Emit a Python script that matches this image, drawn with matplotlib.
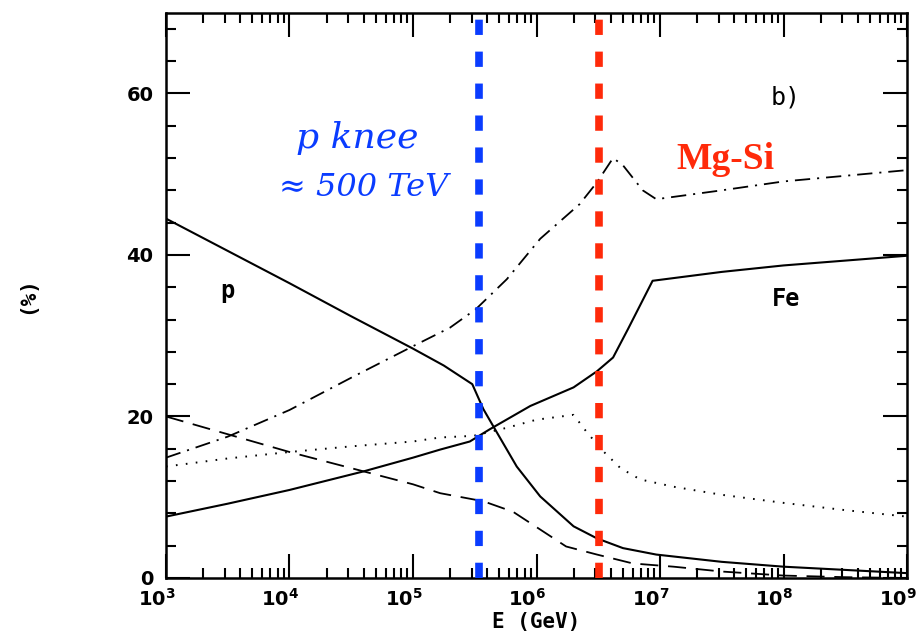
import matplotlib
matplotlib.use("Agg")
import matplotlib.pyplot as plt
import matplotlib.transforms as mtransforms
import numpy as np
from matplotlib.ticker import LogLocator, MultipleLocator, FixedLocator, NullFormatter

plt.rcParams["lines.scale_dashes"] = False

# curves: log10(E/GeV) and percentage
P_LOGE = [3.0, 3.5, 4.0, 4.5, 5.0, 5.25, 5.48, 5.57, 5.68, 5.84, 6.03, 6.3, 6.49, 6.7, 6.97, 7.5, 8.0, 8.5, 9.0]
P_VAL = [44.5, 40.5, 36.5, 32.4, 28.4, 26.3, 24.0, 20.9, 18.0, 13.8, 10.1, 6.4, 4.9, 3.7, 2.9, 2.0, 1.4, 1.0, 0.6]

FE_LOGE = [3.0, 3.5, 4.0, 4.6, 5.0, 5.22, 5.46, 5.62, 5.95, 6.3, 6.49, 6.62, 6.74, 6.94, 7.5, 8.0, 8.5, 9.0]
FE_VAL = [7.6, 9.2, 10.9, 13.2, 14.9, 15.9, 16.9, 18.4, 21.3, 23.6, 25.6, 27.3, 30.8, 36.8, 37.9, 38.7, 39.3, 39.9]

CNO_LOGE = [3.0, 3.5, 4.0, 4.5, 5.0, 5.3, 5.51, 5.76, 6.03, 6.35, 6.49, 6.62, 6.7, 6.86, 6.97, 7.5, 8.0, 8.5, 9.0]
CNO_VAL = [14.9, 17.5, 20.8, 24.8, 28.7, 31.0, 33.3, 37.0, 42.0, 46.3, 49.0, 52.0, 51.1, 48.0, 46.9, 48.0, 49.1, 49.8, 50.5]

HE_LOGE = [3.0, 3.5, 4.0, 4.6, 5.0, 5.22, 5.57, 5.81, 6.03, 6.24, 6.49, 6.78, 7.11, 7.5, 8.0, 8.5, 9.0]
HE_VAL = [20.0, 17.8, 15.6, 13.2, 11.6, 10.5, 9.5, 8.2, 6.0, 3.9, 2.9, 1.8, 1.4, 0.8, 0.3, 0.1, 0.0]

MG_LOGE = [3.0, 3.5, 4.0, 4.5, 5.0, 5.22, 5.49, 5.76, 6.0, 6.3, 6.41, 6.54, 6.68, 6.84, 7.11, 7.5, 8.0, 8.5, 9.0]
MG_VAL = [13.8, 14.8, 15.6, 16.3, 16.9, 17.4, 17.6, 18.6, 19.6, 20.2, 18.0, 15.7, 13.6, 12.2, 11.3, 10.3, 9.3, 8.4, 7.6]

X_DECADES = [3, 4, 5, 6, 7, 8, 9]
Y_MAJOR = [0, 20, 40, 60]

P_KNEE = 3.4e5
MG_KNEE = 3.2e6

fig = plt.figure(figsize=(9.16, 6.42), dpi=100)
ax = fig.add_axes([0.1812, 0.0997, 0.8090, 0.8806])

lw = 1.5
ax.plot(10 ** np.array(P_LOGE), P_VAL, color="black", lw=lw)
ax.plot(10 ** np.array(FE_LOGE), FE_VAL, color="black", lw=lw)
ax.plot(10 ** np.array(CNO_LOGE), CNO_VAL, color="black", lw=1.3, linestyle=(0, (11, 5, 1.5, 5)))
ax.plot(10 ** np.array(HE_LOGE), HE_VAL, color="black", lw=1.3, linestyle=(0, (13, 7)))
ax.plot(10 ** np.array(MG_LOGE), MG_VAL, color="black", lw=1.4, linestyle=(0, (1.2, 6.0)))

ax.axvline(P_KNEE, color="#0a3cff", lw=5.5, linestyle=(0, (11, 12)), zorder=5)
ax.axvline(MG_KNEE, color="#ff2a0a", lw=5.5, linestyle=(0, (11, 12)), zorder=5)

ax.set_xscale("log")
ax.set_xlim(1e3, 1e9)
ax.set_ylim(0, 70)

ax.xaxis.set_major_locator(FixedLocator(10.0 ** np.array(X_DECADES)))
ax.xaxis.set_minor_locator(LogLocator(base=10, subs=np.arange(2, 10), numticks=20))
ax.xaxis.set_minor_formatter(NullFormatter())
ax.yaxis.set_major_locator(FixedLocator(Y_MAJOR))
ax.yaxis.set_minor_locator(MultipleLocator(4))

ax.tick_params(which="both", direction="in", top=True, right=True, width=1.5)
ax.tick_params(which="major", length=17)
ax.tick_params(which="minor", length=7)
ax.tick_params(axis="x", which="major", pad=7)
ax.tick_params(axis="y", which="major", pad=9)

fig.canvas.draw()
shift = mtransforms.ScaledTranslation(-9 / 100, 0, fig.dpi_scale_trans)
for lab in ax.get_xticklabels():
    lab.set_fontsize(14)
    lab.set_fontweight("bold")
    lab.set_transform(lab.get_transform() + shift)
for lab in ax.get_yticklabels():
    lab.set_fontsize(14)
    lab.set_fontweight("bold")
for s in ax.spines.values():
    s.set_linewidth(1.8)

mono = "DejaVu Sans Mono"
ax.set_xlabel("E (GeV)", fontsize=15, fontweight="bold", family=mono, labelpad=2)
ax.set_ylabel("(%)", fontsize=15, fontweight="bold", family=mono, labelpad=64)

ax.text(10 ** 3.5, 35.5, "p", fontsize=17, fontweight="bold", family=mono, ha="center", va="center")
ax.text(10 ** 8.02, 34.5, "Fe", fontsize=17, fontweight="bold", family=mono, ha="center", va="center")
ax.text(10 ** 8.02, 59.5, "b)", fontsize=18, family=mono, ha="center", va="center")

ax.text(10 ** 4.55, 54.5, "p knee", fontsize=26, style="italic", family="DejaVu Serif",
        color="#0a3cff", ha="center", va="center")
ax.text(10 ** 4.6, 48.3, "≈ 500 TeV", fontsize=23, style="italic", family="DejaVu Serif",
        color="#0a3cff", ha="center", va="center")
ax.text(10 ** 7.53, 51.8, "Mg-Si", fontsize=27, fontweight="bold", family="Liberation Serif",
        color="#ff2a0a", ha="center", va="center")

fig.savefig("out.png", dpi=100)
